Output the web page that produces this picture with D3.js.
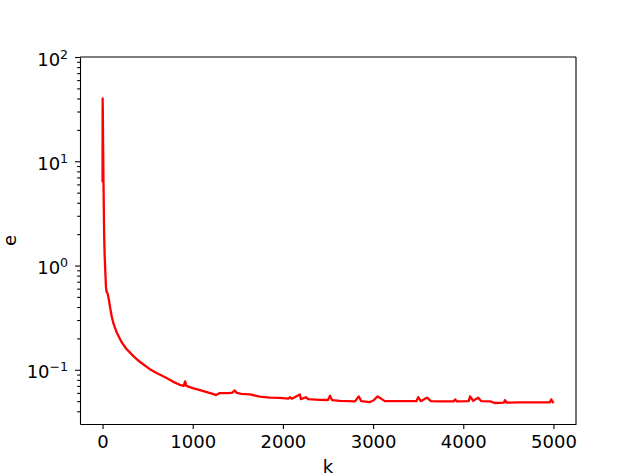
<!DOCTYPE html>
<html>
<head>
<meta charset="utf-8">
<script src="https://cdn.jsdelivr.net/npm/d3@7"></script>
<style>
  body { margin: 0; background: #fff; }
  svg text { font-family: "DejaVu Sans", sans-serif; fill: #000; }
</style>
</head>
<body>
<div id="chart"></div>
<script>
// iteration k and error e
let kValues = [0, 1, 3, 6, 10, 14, 18, 24, 30, 38, 45, 52, 58, 70, 85, 100, 120, 155, 210, 260,
  340, 400, 450, 520, 600, 710, 780, 855, 900, 915, 930, 1000, 1100, 1222, 1260, 1300, 1400, 1440,
  1466, 1490, 1540, 1633, 1744, 1855, 1966, 2060, 2077, 2100, 2188, 2200, 2255, 2280, 2410, 2500,
  2522, 2545, 2633, 2800, 2840, 2870, 2960, 3000, 3050, 3080, 3130, 3240, 3410, 3480, 3500, 3530,
  3590, 3600, 3640, 3744, 3890, 3910, 3930, 4060, 4075, 4110, 4165, 4200, 4300, 4350, 4450, 4463,
  4480, 4630, 4960, 4975, 5000];
let eValues = [6.3, 40, 30, 15, 7, 3.5, 1.9, 1.2, 0.9, 0.62, 0.56, 0.55, 0.53, 0.47, 0.39, 0.33, 0.28, 0.23, 0.185, 0.16,
  0.136, 0.122, 0.113, 0.102, 0.093, 0.0835, 0.077, 0.0718, 0.070, 0.0775, 0.070, 0.0667, 0.063, 0.0588, 0.0572, 0.0598, 0.0598, 0.0605,
  0.0634, 0.060, 0.0588, 0.058, 0.0554, 0.054, 0.0537, 0.053, 0.0545, 0.0528, 0.058, 0.0524, 0.0545, 0.0524, 0.0515, 0.0513,
  0.0565, 0.0512, 0.0504, 0.0497, 0.0555, 0.050, 0.049, 0.0505, 0.0555, 0.0535, 0.050, 0.050, 0.050, 0.050, 0.0547, 0.050,
  0.0535, 0.054, 0.050, 0.0497, 0.0497, 0.052, 0.0497, 0.050, 0.0555, 0.0505, 0.054, 0.050, 0.0497, 0.048, 0.0485, 0.0512,
  0.0485, 0.0487, 0.0487, 0.052, 0.048];
let xTicks = [0, 1000, 2000, 3000, 4000, 5000];
let yExponents = [-1, 0, 1, 2];

let margin = {top: 57, right: 64, bottom: 52, left: 80};
let width = 640 - margin.left - margin.right;
let height = 476 - margin.top - margin.bottom;

let data = kValues.map((k, i) => ({k: k, e: eValues[i]}));

let svg = d3.select("#chart")
            .append("svg")
            .attr("width", 640)
            .attr("height", 476)
            .append("g")
            .attr("transform", "translate(" + margin.left + "," + margin.top + ")");

let x = d3.scaleLinear()
          .domain([-250, 5250])
          .range([0, width]);

let y = d3.scaleLog()
          .domain([0.0302, 100])
          .range([height, 0]);

// x axis
let xAxis = svg.append("g")
   .attr("transform", "translate(0," + height + ")")
   .call(d3.axisBottom(x).tickValues(xTicks).tickFormat(d3.format("d")).tickSize(4.9).tickPadding(6.5).tickSizeOuter(0));
xAxis.selectAll("text").style("font-size", "18px");

// y axis: minor ticks first
let minor = y.ticks().filter(v => Math.abs(Math.log10(v) - Math.round(Math.log10(v))) > 1e-6);
svg.append("g")
   .call(d3.axisLeft(y).tickValues(minor).tickSize(2.8).tickFormat("").tickSizeOuter(0))
   .select(".domain").remove();

let yAxis = svg.append("g")
   .call(d3.axisLeft(y).tickValues(yExponents.map(p => Math.pow(10, p))).tickSize(4.9).tickPadding(7).tickFormat("").tickSizeOuter(0));
yAxis.selectAll(".tick text").each(function(d) {
  let t = d3.select(this).style("font-size", "18px").attr("dy", "0.45em");
  t.append("tspan").text("10");
  t.append("tspan").attr("dy", "-0.55em").style("font-size", "12.6px").text(d3.format("d")(Math.round(Math.log10(d))).replace("-", "\u2212"));
});

svg.selectAll(".domain, .tick line").attr("stroke", "#000").attr("stroke-width", 1.1);

// frame top/right
svg.append("line").attr("x1", 0).attr("x2", width).attr("y1", 0).attr("y2", 0).attr("stroke", "#000").attr("stroke-width", 1.1);
svg.append("line").attr("x1", width).attr("x2", width).attr("y1", 0).attr("y2", height).attr("stroke", "#000").attr("stroke-width", 1.1);

// the curve
let line = d3.line()
             .x(function(d) { return x(d.k); })
             .y(function(d) { return y(d.e); });

svg.append("path")
   .datum(data)
   .attr("fill", "none")
   .attr("stroke", "#ff0000")
   .attr("stroke-width", 2.3)
   .attr("stroke-linejoin", "round")
   .attr("d", line);

// axis labels
svg.append("text")
   .attr("x", width / 2)
   .attr("y", height + 49)
   .attr("text-anchor", "middle")
   .style("font-size", "18px")
   .text("k");

svg.append("text")
   .attr("transform", "translate(" + (-64) + "," + (height / 2) + ") rotate(-90)")
   .attr("text-anchor", "middle")
   .style("font-size", "18px")
   .text("e");
</script>
</body>
</html>
